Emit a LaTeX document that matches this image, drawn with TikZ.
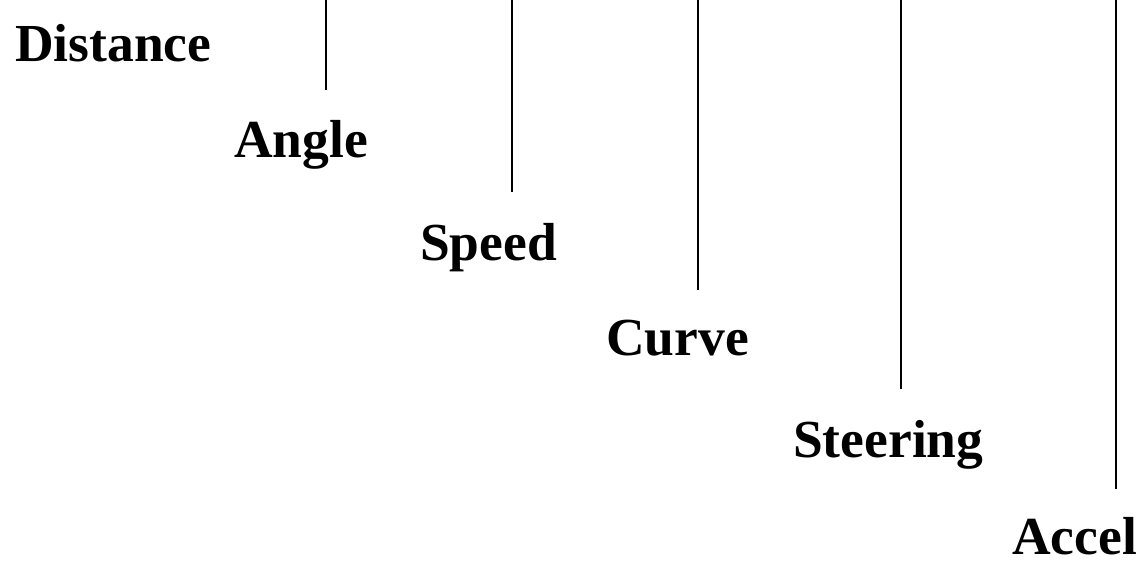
\documentclass[tikz,border=0pt]{standalone}
\usepackage{fontspec}
\setmainfont{Liberation Serif}
\begin{document}
\begin{tikzpicture}[x=1pt,y=-1pt,
  lbl/.style={anchor=base west,inner sep=0pt,font=\fontsize{53.5}{60}\selectfont\bfseries},
  vline/.style={draw=black,line width=1.4pt}]
\useasboundingbox (0,0) rectangle (1141,567);
\node[lbl] (distance) at (15,62) {Distance};
\node[lbl] (angle) at (234,158) {Angle};
\node[lbl] (speed) at (420,260) {Speed};
\node[lbl] (curve) at (606,355) {Curve};
\node[lbl] (steering) at (793,457) {Steering};
\node[lbl] (accel) at (1012,554) {Accel};
\coordinate (t1) at (326,0); \coordinate (b1) at (326,90);
\coordinate (t2) at (512,0); \coordinate (b2) at (512,192);
\coordinate (t3) at (698,0); \coordinate (b3) at (698,290);
\coordinate (t4) at (901,0); \coordinate (b4) at (901,389);
\coordinate (t5) at (1116,0); \coordinate (b5) at (1116,489);
\draw[vline] (t1) -- (b1);
\draw[vline] (t2) -- (b2);
\draw[vline] (t3) -- (b3);
\draw[vline] (t4) -- (b4);
\draw[vline] (t5) -- (b5);
\end{tikzpicture}
\end{document}
